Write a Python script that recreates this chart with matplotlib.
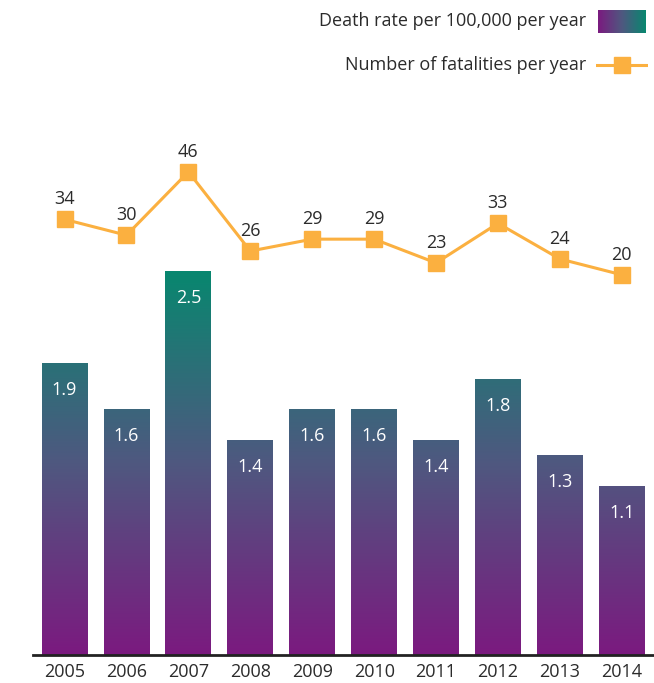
import numpy as np
import matplotlib.pyplot as plt
from matplotlib.colors import LinearSegmentedColormap

years = ['2005', '2006', '2007', '2008', '2009', '2010', '2011', '2012', '2013', '2014']
death_rate = [1.9, 1.6, 2.5, 1.4, 1.6, 1.6, 1.4, 1.8, 1.3, 1.1]
fatalities = [34, 30, 46, 26, 29, 29, 23, 33, 24, 20]

plt.rcParams['font.family'] = ['Open Sans', 'DejaVu Sans']
fs = 13

W, H = 654, 683
fig = plt.figure(figsize=(W / 100, H / 100), dpi=100)

grad = LinearSegmentedColormap.from_list('g', ['#7b1a7f', '#4f5880', '#08876f'])
orange = '#fbb040'
text_col = '#2b2b2b'

# axes area in pixels
left, right, bottom, top = 33, 654, 655, 100
ax = fig.add_axes([left / W, 1 - bottom / H, (right - left) / W, (bottom - top) / H])
px_per_unit = 153.2
ax.set_ylim(0, (bottom - top) / px_per_unit)

x = np.arange(len(years))
bw = 0.74
for i, v in enumerate(death_rate):
    img = np.linspace(0, v, 256).reshape(-1, 1)
    ax.imshow(img, cmap=grad, vmin=0, vmax=2.5, origin='lower', aspect='auto',
              extent=[i - bw / 2, i + bw / 2, 0, v], interpolation='bilinear')
    ax.annotate(f'{v:.1f}', (i, v), xytext=(0, -19), textcoords='offset points',
                ha='center', va='center', color='white', fontsize=fs)

for s in ['top', 'left', 'right']:
    ax.spines[s].set_visible(False)
ax.spines['bottom'].set_color('#222222')
ax.spines['bottom'].set_linewidth(2)
ax.set_yticks([])
ax.set_xticks(x)
ax.set_xticklabels(years, fontsize=fs, color=text_col)
ax.tick_params(axis='x', length=0, pad=6)
ax.set_xlim(-0.51, 9.52)

# line on its own scale
ax2 = ax.twinx()
zero_px, lpx = 354, 3.96
ax2.set_ylim((zero_px - bottom) / lpx, (zero_px - top) / lpx)
ax2.plot(x, fatalities, color=orange, lw=2.2, marker='s', markersize=12, zorder=3)
for i, v in enumerate(fatalities):
    ax2.annotate(str(v), (i, v), xytext=(0, 14.5), textcoords='offset points',
                 ha='center', va='center', color=text_col, fontsize=fs)
ax2.axis('off')

# legend
fig.text(586 / W, 1 - 21 / H, 'Death rate per 100,000 per year', ha='right', va='center',
         fontsize=fs, color=text_col)
lax = fig.add_axes([598 / W, 1 - 33 / H, 48 / W, 23 / H])
lax.imshow(np.linspace(0, 1, 256).reshape(1, -1), cmap=grad, aspect='auto')
lax.axis('off')
fig.text(586 / W, 1 - 65 / H, 'Number of fatalities per year', ha='right', va='center',
         fontsize=fs, color=text_col)
lax2 = fig.add_axes([596 / W, 1 - 76 / H, 52 / W, 22 / H])
lax2.plot([0, 1], [0.5, 0.5], color=orange, lw=2.2)
lax2.plot([0.5], [0.5], color=orange, marker='s', markersize=12)
lax2.set_xlim(0, 1)
lax2.set_ylim(0, 1)
lax2.axis('off')

fig.savefig('out.png', dpi=100)
